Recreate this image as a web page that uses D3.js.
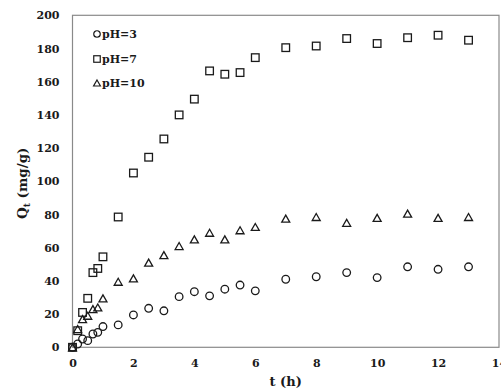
<!DOCTYPE html>
<html>
<head>
<meta charset="utf-8">
<script src="https://cdn.jsdelivr.net/npm/d3@7"></script>
<style>
  html, body { margin: 0; padding: 0; background: #fff; }
  svg { display: block; }
  text { font-family: "DejaVu Serif", serif; font-weight: bold; fill: #1a1a1a; }
</style>
</head>
<body>
<svg id="chart" width="501" height="389"></svg>
<script>
const times = [0, 0.17, 0.33, 0.5, 0.67, 0.83, 1, 1.5, 2, 2.5, 3, 3.5, 4, 4.5, 5, 5.5, 6, 7, 8, 9, 10, 11, 12, 13];
const pH3  = [0, 2, 5, 4, 8, 9, 12.5, 13.5, 19.5, 23.5, 22, 30.5, 33.5, 31, 35, 37.5, 34, 41, 42.5, 45, 42, 48.5, 47, 48.5];
const pH7  = [0, 10, 21, 29.5, 45, 47.5, 54.5, 78.5, 105, 114.5, 125.5, 140, 149.5, 166.5, 164.5, 165.5, 174.5, 180.5, 181.5, 186, 183, 186.5, 188, 185];
const pH10 = [0, 11, 17, 19, 23, 24, 29.5, 39.5, 41.5, 51, 55.5, 61, 65, 69, 65, 70.5, 72.5, 77.5, 78.5, 75, 78, 80.5, 78, 78.5];
const seriesNames = ["pH=3", "pH=7", "pH=10"];
const seriesShapes = ["circle", "square", "triangle"];
const xTicks = [0, 2, 4, 6, 8, 10, 12, 14];
const yTicks = [0, 20, 40, 60, 80, 100, 120, 140, 160, 180, 200];

const svg = d3.select("#chart");
const L = 72.5, R = 499, T = 15.3, B = 347.3;
const x = d3.scaleLinear().domain([0, 14]).range([L, R]);
const y = d3.scaleLinear().domain([0, 200]).range([B, T]);

// frame
svg.append("rect").attr("x", L).attr("y", T).attr("width", R - L).attr("height", B - T)
  .attr("fill", "none").attr("stroke", "#8a8a8a").attr("stroke-width", 1.2);

// axes (labels only)
const xAxis = svg.append("g").attr("transform", `translate(0,${B})`)
  .call(d3.axisBottom(x).tickValues(xTicks).tickSize(0).tickPadding(12).tickFormat(d3.format("d")));
xAxis.select(".domain").remove();
xAxis.selectAll("text").attr("font-size", 11).attr("fill", "#1a1a1a")
  .style("font-family", "'DejaVu Serif', serif").style("font-weight", "bold");

const yAxis = svg.append("g").attr("transform", `translate(${L},0)`)
  .call(d3.axisLeft(y).tickValues(yTicks).tickSize(0).tickPadding(13).tickFormat(d3.format("d")));
yAxis.select(".domain").remove();
yAxis.selectAll("text").attr("font-size", 11).attr("fill", "#1a1a1a")
  .style("font-family", "'DejaVu Serif', serif").style("font-weight", "bold");

// axis titles
svg.append("text").attr("x", (L + R) / 2).attr("y", 386).attr("text-anchor", "middle")
  .attr("font-size", 13).text("t (h)");
const yt = svg.append("text").attr("transform", `translate(27,${(T + B) / 2 + 2}) rotate(-90)`)
  .attr("text-anchor", "middle").attr("font-size", 13.5);
yt.append("tspan").text("Q");
yt.append("tspan").attr("font-size", 9).attr("dy", 3).text("t");
yt.append("tspan").attr("dy", -3).text(" (mg/g)");

function marker(sel, shape, s) {
  if (shape === "circle") {
    sel.append("circle").attr("r", s / 2);
  } else if (shape === "square") {
    sel.append("rect").attr("x", -s / 2).attr("y", -s / 2).attr("width", s).attr("height", s);
  } else {
    const w = s * 1.05, h = s * 0.92;
    sel.append("path").attr("d", `M0,${-h / 2}L${w / 2},${h / 2}L${-w / 2},${h / 2}Z`);
  }
}

const data = [pH3, pH7, pH10];
data.forEach((vals, i) => {
  const g = svg.append("g").attr("fill", "none").attr("stroke", "#1a1a1a").attr("stroke-width", 1.3);
  vals.forEach((v, j) => {
    const m = g.append("g").attr("transform", `translate(${x(times[j])},${y(v)})`);
    marker(m, seriesShapes[i], 7.6);
  });
});

// legend
const legY = [34, 59, 83];
seriesNames.forEach((n, i) => {
  const m = svg.append("g").attr("transform", `translate(97,${legY[i]})`)
    .attr("fill", "none").attr("stroke", "#1a1a1a").attr("stroke-width", 1.2);
  marker(m, seriesShapes[i], 6.5);
  svg.append("text").attr("x", 102).attr("y", legY[i] + 4).attr("font-size", 11).text(n);
});
</script>
</body>
</html>
